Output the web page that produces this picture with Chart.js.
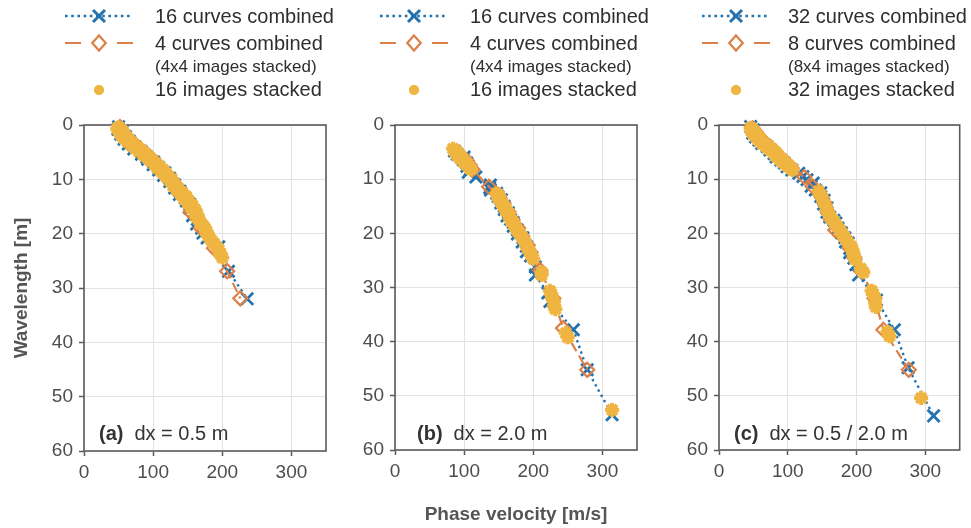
<!DOCTYPE html>
<html><head><meta charset="utf-8">
<script src="https://cdn.jsdelivr.net/npm/chart.js@4/dist/chart.umd.min.js"></script>
<style>
html,body{margin:0;padding:0;background:#fff;}
#wrap{position:relative;width:971px;height:528px;overflow:hidden;background:#fff;}
.cv{position:absolute;top:0;}
</style></head><body>
<div id="wrap">
<canvas id="ca" class="cv" style="left:0px" width="340" height="528"></canvas>
<canvas id="cb" class="cv" style="left:330px" width="330" height="528"></canvas>
<canvas id="cc" class="cv" style="left:650px" width="321" height="528"></canvas>
</div>
<script>
// ---------- tick labels & texts ----------
const xTicks = [0, 100, 200, 300];
const yTicks = [0, 10, 20, 30, 40, 50, 60];
const xTitle = 'Phase velocity [m/s]';
const yTitle = 'Wavelength [m]';
const panelTags = ['(a)', '(b)', '(c)'];
const panelDx = ['dx = 0.5 m', 'dx = 2.0 m', 'dx = 0.5 / 2.0 m'];
const legendA = ['16 curves combined', '4 curves combined', '(4x4 images stacked)', '16 images stacked'];
const legendB = ['16 curves combined', '4 curves combined', '(4x4 images stacked)', '16 images stacked'];
const legendC = ['32 curves combined', '8 curves combined', '(8x4 images stacked)', '32 images stacked'];

// ---------- panel (a): dx = 0.5 m ----------
const aBlueL = [0.3,0.8,1.2,1.7,2.1,2.6,3.0,3.5,4.0,4.4,4.9,5.4,5.9,6.3,6.8,7.3,7.8,8.3,8.8,9.3,9.8,10.4,11.0,11.6,12.2,12.8,13.4,14.0,14.6,15.3,16.0,16.7,17.4,18.2,19.0,19.9,20.8,22.4,26.9,32.0];
const aBlueV = [50,49,55,53,60,58,66,64,74,72,83,83,91,92,101,100,108,108,117,115,124,124,131,131,139,138,146,148,153,153,159,157,164,163,170,172,178,195,209,236];
const aOrangeL = [0.4,1.0,1.6,2.2,2.9,3.6,4.3,5.0,5.8,6.6,7.4,8.2,9.1,10.0,11.0,12.0,13.1,14.3,16.0,19.0,22.7,26.9,31.9];
const aOrangeV = [52,54,58,62,68,74,80,87,94,101,107,113,120,126,133,139,146,152,154,169,188,207,226];
const aYellowL = [0.4,0.7,1.0,1.3,1.6,1.9,2.2,2.5,2.8,3.1,3.4,3.7,4.0,4.3,4.6,4.9,5.2,5.5,5.8,6.1,6.4,6.7,7.0,7.3,7.6,7.9,8.2,8.5,8.8,9.1,9.4,9.7,10.0,10.4,10.8,11.2,11.6,12.0,12.4,12.8,13.2,13.6,14.0,14.4,14.8,15.2,15.6,16.0,16.5,17.0,17.5,18.0,18.5,19.0,19.5,20.0,20.6,21.2,21.8,22.4,23.0,23.7,24.4];
const aYellowV = [50,48,55,51,58,54,62,58,66,63,71,68,77,74,83,80,89,86,94,92,99,97,104,102,109,106,114,111,118,116,122,120,127,125,131,129,136,134,142,140,148,145,152,150,157,155,161,160,164,163,167,168,172,175,177,178,181,184,188,192,195,197,200];

// ---------- panel (b): dx = 2.0 m ----------
const bBlueL = [4.8,5.4,5.9,6.5,7.0,7.6,8.2,8.7,9.6,11.1,11.6,12.0,12.6,13.2,13.8,14.4,15.0,15.6,16.2,16.8,17.4,18.0,18.7,19.4,20.1,20.8,21.6,22.4,23.4,24.2,26.2,27.7,31.0,32.6,37.8,45.2,53.5];
const bBlueV = [86,90,100,99,104,104,109,106,117,138,137,138,147,149,154,153,158,158,164,162,167,171,171,177,177,185,184,190,190,196,203,203,221,224,258,278,314];
const bOrangeL = [5.0,5.8,6.6,7.4,8.2,11.4,13.0,14.5,16.0,17.5,19.0,20.5,22.2,23.5,26.8,32.0,37.5,45.2];
const bOrangeV = [90,97,104,108,112,136,150,157,164,170,178,184,192,196,210,229,243,278];
const bYellowL = [4.4,4.7,5.0,5.3,5.6,5.9,6.2,6.5,6.8,7.1,7.4,7.8,8.2,12.6,13.0,13.4,13.8,14.2,14.6,15.0,15.4,15.8,16.2,16.6,17.0,17.5,18.0,18.5,19.0,19.5,20.0,20.5,21.0,21.6,22.2,22.8,23.4,24.0,24.7,27.2,27.7,30.6,31.2,31.8,32.6,33.4,34.0,38.4,39.2,52.6];
const bYellowV = [84,88,87,92,90,96,94,100,99,104,104,108,110,147,150,149,153,153,156,157,160,160,164,164,167,167,171,172,175,177,180,183,185,188,190,192,195,197,200,212,212,224,226,227,230,230,232,247,250,314];

// ---------- panel (c): dx = 0.5 / 2.0 m ----------
const cBlueL = [0.3,0.9,1.5,2.2,2.8,3.4,4.0,4.6,5.3,5.9,6.5,7.0,7.7,8.3,8.9,9.5,10.1,10.7,11.3,12.0,12.5,13.2,13.9,14.6,15.3,16.1,17.0,17.6,18.1,19.0,19.9,20.8,21.6,21.8,22.8,23.6,24.6,25.8,27.7,32.3,37.8,44.8,53.7];
const cBlueV = [46,50,49,53,58,62,70,74,80,83,90,95,99,106,116,122,128,137,134,140,148,148,153,152,157,157,161,167,170,173,178,183,184,188,190,190,196,199,203,229,255,275,312];
const cOrangeL = [0.6,1.4,2.2,3.1,4.0,5.0,6.0,7.0,8.0,9.6,11.3,13.0,14.5,16.0,17.5,19.4,21.0,22.7,24.5,27.0,32.0,37.8,45.2];
const cOrangeV = [49,54,59,66,74,82,90,98,106,124,136,148,154,158,163,169,183,190,197,207,226,239,276];
const cYellowL = [0.5,0.8,1.1,1.4,1.7,2.0,2.3,2.6,2.9,3.2,3.5,3.8,4.1,4.4,4.7,5.0,5.3,5.6,5.9,6.2,6.5,6.8,7.1,7.4,7.7,8.0,8.3,12.2,13.0,14.0,15.0,16.0,17.0,17.6,18.2,18.8,19.4,20.0,20.6,21.2,21.8,22.4,23.0,23.6,24.2,24.8,26.5,27.2,30.6,31.2,32.0,32.8,33.6,38.2,39.0,50.4];
const cYellowV = [46,49,47,52,50,56,54,60,58,65,63,71,69,77,75,82,80,86,84,91,89,96,95,101,100,106,107,145,148,152,155,158,162,166,169,172,176,179,182,185,188,192,194,195,196,198,206,210,222,224,227,227,228,245,248,294];

// ---------- styling ----------
const FONT = "'Liberation Sans', Arial, Helvetica, sans-serif";
const BLUE = '#2273b0', ORANGE = '#dc8048', YELLOW = '#f0b541';
const FRAME = '#5a5a5a', GRID = '#e2e2e2', TICK = '#4d4d4d', TITLE = '#555555', TEXT = '#2e2e2e';
Chart.defaults.font.family = FONT;

function pts(V, L) { return V.map((v, i) => ({ x: v, y: L[i] })); }

function drawX(ctx, x, y, d) {
  ctx.beginPath();
  ctx.moveTo(x - d, y - d); ctx.lineTo(x + d, y + d);
  ctx.moveTo(x - d, y + d); ctx.lineTo(x + d, y - d);
  ctx.stroke();
}
function drawDiamond(ctx, x, y, r) {
  ctx.beginPath();
  ctx.moveTo(x, y - r); ctx.lineTo(x + r * 0.9, y); ctx.lineTo(x, y + r); ctx.lineTo(x - r * 0.9, y); ctx.closePath();
  ctx.stroke();
}
function drawStar(ctx, x, y, r) {
  const d = r * Math.SQRT1_2;
  ctx.beginPath();
  ctx.moveTo(x - r, y); ctx.lineTo(x + r, y);
  ctx.moveTo(x, y - r); ctx.lineTo(x, y + r);
  ctx.moveTo(x - d, y - d); ctx.lineTo(x + d, y + d);
  ctx.moveTo(x - d, y + d); ctx.lineTo(x + d, y - d);
  ctx.stroke();
}

const decor = {
  id: 'decor',
  beforeDatasetsDraw(chart, args, o) {
    const { ctx, chartArea: a } = chart;
    ctx.save();
    ctx.strokeStyle = FRAME; ctx.lineWidth = 1.6;
    ctx.strokeRect(a.left, a.top, a.right - a.left, a.bottom - a.top);
    ctx.restore();
  },
  afterDraw(chart, args, o) {
    const ctx = chart.ctx, a = chart.chartArea;
    const off = o.offset;
    const x0 = o.x0 - off, x1 = o.x1 - off, xm = (x0 + x1) / 2, tx = o.tx - off;
    ctx.save();
    // row 1: blue dotted + X
    ctx.strokeStyle = BLUE; ctx.lineWidth = 2.6; ctx.lineCap = 'butt';
    ctx.setLineDash([2.6, 3.6]);
    ctx.beginPath(); ctx.moveTo(x0, 16); ctx.lineTo(x1, 16); ctx.stroke();
    ctx.setLineDash([]);
    ctx.lineWidth = 3;
    drawX(ctx, xm, 16, 6);
    // row 2: orange dashed + diamond
    ctx.strokeStyle = ORANGE; ctx.lineWidth = 2.2;
    ctx.beginPath(); ctx.moveTo(x0, 43); ctx.lineTo(x0 + 16, 43); ctx.moveTo(x1 - 16, 43); ctx.lineTo(x1, 43); ctx.stroke();
    drawDiamond(ctx, xm, 43, 7.5);
    // row 4: yellow star
    ctx.strokeStyle = YELLOW; ctx.lineWidth = 3.5;
    drawStar(ctx, xm, 90, 5);
    // texts
    ctx.fillStyle = TEXT; ctx.textBaseline = 'middle'; ctx.textAlign = 'left';
    ctx.font = '20px ' + FONT;
    ctx.fillText(o.labels[0], tx, 17);
    ctx.fillText(o.labels[1], tx, 44);
    ctx.fillText(o.labels[3], tx, 90);
    ctx.font = '17px ' + FONT;
    ctx.fillText(o.labels[2], tx, 67);
    // panel note
    const nx = a.left + o.noteDx, ny = 434;
    ctx.font = 'bold 20px ' + FONT;
    ctx.fillStyle = '#333333';
    ctx.fillText(o.tag, nx, ny);
    const w = ctx.measureText(o.tag).width;
    ctx.font = '20px ' + FONT;
    ctx.fillText(o.note, nx + w + 11, ny);
    ctx.restore();
  }
};

function makeChart(id, blue, orange, yellow, cfg) {
  return new Chart(document.getElementById(id), {
    type: 'line',
    data: {
      datasets: [
        { label: cfg.labels[0], data: blue, order: 3, clip: false,
          borderColor: BLUE, borderWidth: 2.4, borderDash: [2.4, 3.6], fill: false,
          pointStyle: 'crossRot', pointRadius: 8.5, pointBorderWidth: 2.8,
          pointBorderColor: BLUE, pointBackgroundColor: BLUE, pointHoverRadius: 8.5 },
        { label: cfg.labels[1], data: orange, order: 2, clip: false,
          borderColor: ORANGE, borderWidth: 2.2, borderDash: [10, 5], fill: false,
          pointStyle: 'rectRot', pointRadius: 7, pointBorderWidth: 2.2,
          pointBorderColor: ORANGE, pointBackgroundColor: 'rgba(0,0,0,0)', pointHoverRadius: 7 },
        { label: cfg.labels[3], data: yellow, order: 1, clip: false, showLine: false,
          borderColor: YELLOW, pointStyle: 'star', pointRadius: 7, pointBorderWidth: 4,
          pointBorderColor: YELLOW, pointBackgroundColor: YELLOW, pointHoverRadius: 7 }
      ]
    },
    options: {
      responsive: false, animation: false, devicePixelRatio: 1,
      layout: { padding: { top: 125, right: cfg.padRight, left: 0, bottom: 0 } },
      plugins: {
        legend: { display: false }, tooltip: { enabled: false },
        decor: { offset: cfg.offset, x0: cfg.x0, x1: cfg.x1, tx: cfg.tx, labels: cfg.labels,
                 tag: cfg.tag, note: cfg.note, noteDx: cfg.noteDx }
      },
      scales: {
        x: {
          type: 'linear', min: 0, max: 350,
          afterBuildTicks: s => { s.ticks = xTicks.map(v => ({ value: v })); },
          afterFit: s => { s.height = cfg.xH; },
          grid: { color: GRID, lineWidth: 1, tickColor: FRAME, tickLength: 5, tickWidth: 1.5 },
          border: { display: false },
          ticks: { color: TICK, font: { size: 19 }, padding: 5, maxRotation: 0, autoSkip: false },
          title: { display: cfg.showX, text: xTitle, color: TITLE, font: { size: 19, weight: 'bold' }, padding: { top: 0, bottom: 2 } }
        },
        y: {
          type: 'linear', min: 0, max: 60, reverse: true,
          afterBuildTicks: s => { s.ticks = yTicks.map(v => ({ value: v })); },
          afterFit: s => { s.width = cfg.yW; },
          grid: { color: GRID, lineWidth: 1, tickColor: FRAME, tickLength: 5, tickWidth: 1.5 },
          border: { display: false },
          ticks: { color: TICK, font: { size: 19 }, padding: 6, autoSkip: false },
          title: { display: cfg.showY, text: yTitle, color: TITLE, font: { size: 19, weight: 'bold' }, padding: { top: 10, bottom: 0 } }
        }
      }
    },
    plugins: [decor]
  });
}

makeChart('ca', pts(aBlueV, aBlueL), pts(aOrangeV, aOrangeL), pts(aYellowV, aYellowL),
  { offset: 0, x0: 65, x1: 133, tx: 155, labels: legendA, tag: panelTags[0], note: panelDx[0], noteDx: 15,
    padRight: 14, xH: 77, yW: 84, showX: false, showY: true });
makeChart('cb', pts(bBlueV, bBlueL), pts(bOrangeV, bOrangeL), pts(bYellowV, bYellowL),
  { offset: 330, x0: 380, x1: 448, tx: 470, labels: legendB, tag: panelTags[1], note: panelDx[1], noteDx: 22,
    padRight: 23, xH: 78, yW: 65, showX: true, showY: false });
makeChart('cc', pts(cBlueV, cBlueL), pts(cOrangeV, cOrangeL), pts(cYellowV, cYellowL),
  { offset: 650, x0: 702, x1: 770, tx: 788, labels: legendC, tag: panelTags[2], note: panelDx[2], noteDx: 15,
    padRight: 10, xH: 78, yW: 69, showX: false, showY: false });
</script>
</body></html>
